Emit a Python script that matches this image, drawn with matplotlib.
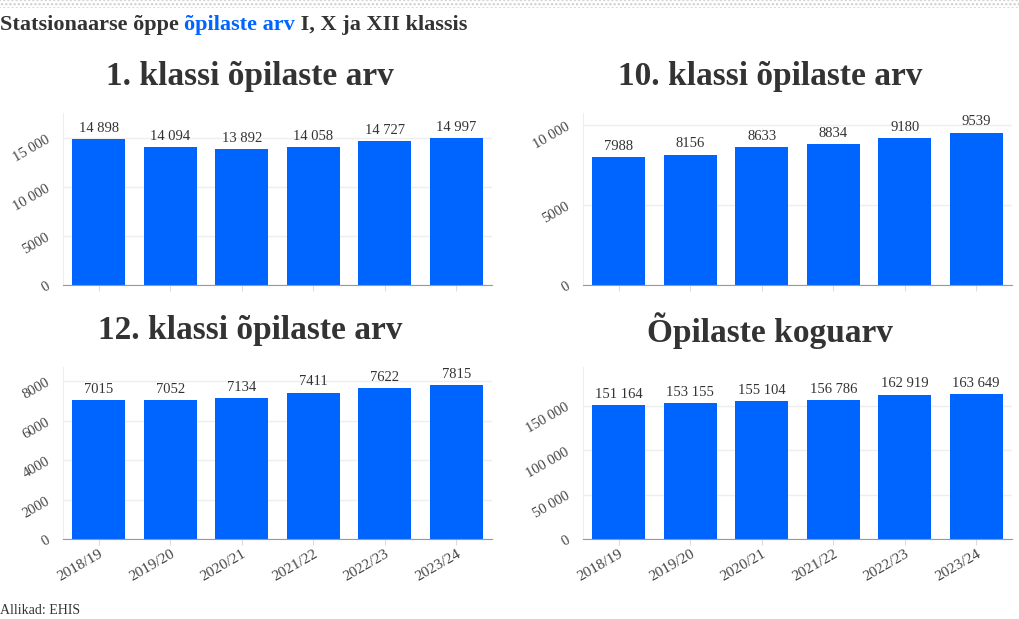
import matplotlib
matplotlib.use('Agg')
import matplotlib.pyplot as plt
from matplotlib.patches import Rectangle

# --- Data ---
years = ["2018/19", "2019/20", "2020/21", "2021/22", "2022/23", "2023/24"]
klass1 = [14898, 14094, 13892, 14058, 14727, 14997]
klass10 = [7988, 8156, 8633, 8834, 9180, 9539]
klass12 = [7015, 7052, 7134, 7411, 7622, 7815]
kokku = [151164, 153155, 155104, 156786, 162919, 163649]

titles = ["1. klassi õpilaste arv", "10. klassi õpilaste arv",
          "12. klassi õpilaste arv", "Õpilaste koguarv"]
series = [klass1, klass10, klass12, kokku]
yticks = [[0, 5000, 10000, 15000], [0, 5000, 10000],
          [0, 2000, 4000, 6000, 8000], [0, 50000, 100000, 150000]]
ytops = [17550, 10760, 8710, 194000]

plt.rcParams['font.family'] = ['Liberation Serif', 'DejaVu Serif']
plt.rcParams['hatch.linewidth'] = 1.2
BLUE = '#0064ff'
TXT = '#333333'

W, H = 1020, 619
fig = plt.figure(figsize=(W / 100, H / 100), dpi=100)

def fmt(v):
    # thousands separated with a space, but only from 10 000 up
    if v < 10000:
        return str(v)
    return f"{v:,}".replace(",", " ")

# pixel boxes: left, top, right, bottom
boxes = [(63, 113, 492, 285), (583, 113, 1012, 285),
         (63, 367, 492, 539), (583, 367, 1012, 539)]
title_pos = [(250, 77), (770, 77), (250, 331), (770, 331)]

for i, (l, t, r, b) in enumerate(boxes):
    ax = fig.add_axes([l / W, 1 - b / H, (r - l) / W, (b - t) / H])
    vals = series[i]
    x = range(len(years))
    ax.bar(x, vals, width=0.74, color=BLUE, zorder=3)
    for xi, v in zip(x, vals):
        ax.annotate(fmt(v), (xi, v), xytext=(0, 3), textcoords='offset points',
                    ha='center', va='bottom', fontsize=10.5, color=TXT)
    ax.set_xlim(-0.5, len(years) - 0.5)
    ax.set_ylim(0, ytops[i])
    ax.set_yticks(yticks[i])
    ax.set_yticklabels([fmt(v) for v in yticks[i]], rotation=30,
                       fontsize=10.5, color='#444444')
    ax.set_xticks(list(x))
    if i >= 2:
        ax.set_xticklabels(years, rotation=30, ha='right', rotation_mode='anchor',
                           fontsize=11, color='#444444')
    else:
        ax.set_xticklabels([])
    ax.tick_params(axis='y', length=0, pad=8)
    ax.tick_params(axis='x', length=4, color='#dddddd', pad=2)
    ax.grid(axis='y', color='#eeeeee', linewidth=1, zorder=0)
    for s in ('top', 'right'):
        ax.spines[s].set_visible(False)
    ax.spines['left'].set_color('#eeeeee')
    ax.spines['bottom'].set_color('#999999')
    ax.spines['bottom'].set_zorder(4)
    tx, ty = title_pos[i]
    fig.text(tx / W, 1 - ty / H, titles[i], ha='center', va='center',
             fontsize=24, fontweight='bold', color=TXT)

# dotted band at the very top
fig.patches.append(Rectangle((0, 1 - 8 / H), 1, 8 / H, transform=fig.transFigure,
                             facecolor='white', edgecolor='#d0d0d0', linewidth=0,
                             hatch='....', figure=fig))

# header with one coloured phrase
t1 = fig.text(0, 1 - 25 / H, "Statsionaarse õppe ", ha='left', va='center',
              fontsize=16, fontweight='bold', color=TXT)
t2 = plt.annotate("õpilaste arv", xy=(1, 0), xycoords=t1, va='bottom', ha='left',
                  fontsize=16, fontweight='bold', color=BLUE)
t3 = plt.annotate(" I, X ja XII klassis", xy=(1, 0), xycoords=t2, va='bottom',
                  ha='left', fontsize=16, fontweight='bold', color=TXT)

fig.text(0, 1 - 610 / H, "Allikad: EHIS", ha='left', va='center',
         fontsize=10, color=TXT)

fig.savefig("out.png", dpi=100)
